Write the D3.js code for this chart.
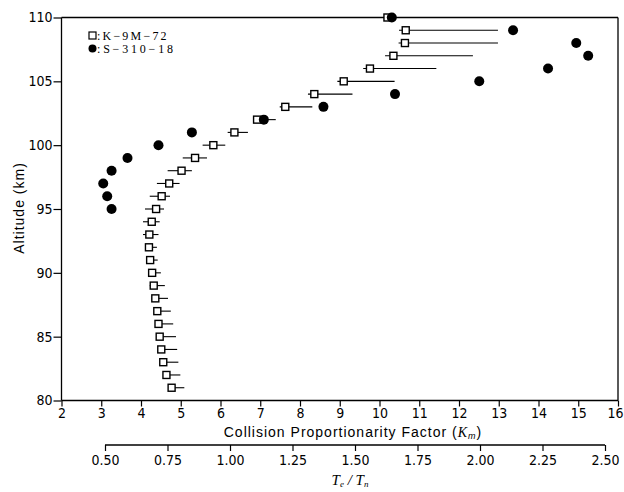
<!DOCTYPE html>
<html><head><meta charset="utf-8">
<script src="https://cdn.jsdelivr.net/npm/d3@7"></script>
<style>
body{margin:0;background:#fff;}
svg{display:block;}
</style></head>
<body>
<svg id="c" width="624" height="492"></svg>
<script>
// K-9M-72: altitude (km), factor, error bar low/high
const k9mAlt  = [81,82,83,84,85,86,87,88,89,90,91,92,93,94,95,96,97,98,99,100,101,102,103,104,105,106,107,108,109,110];
const k9mVal  = [4.77,4.64,4.56,4.51,4.47,4.44,4.41,4.36,4.32,4.28,4.23,4.20,4.21,4.27,4.38,4.52,4.71,5.02,5.36,5.82,6.35,6.92,7.63,8.36,9.10,9.76,10.35,10.64,10.66,10.20];
const k9mLow  = [4.68,4.57,4.48,4.43,4.39,4.36,4.33,4.27,4.22,4.20,4.16,4.12,4.05,4.05,4.10,4.22,4.40,4.67,5.05,5.55,6.18,6.82,7.49,8.20,8.94,9.59,10.14,10.48,10.49,10.10];
const k9mHigh = [5.09,4.99,4.94,4.91,4.88,4.81,4.75,4.68,4.60,4.50,4.42,4.40,4.44,4.47,4.58,4.73,4.97,5.28,5.66,6.12,6.69,7.39,8.31,9.32,10.38,11.43,12.35,12.98,12.98,10.30];
// S-310-18
const s310Alt = [95,96,97,98,99,100,101,102,103,104,105,106,107,108,109,110];
const s310Val = [3.26,3.15,3.05,3.26,3.66,4.44,5.28,7.09,8.59,10.39,12.51,14.24,15.25,14.95,13.36,10.31];
// axes
const xTicks = [2,3,4,5,6,7,8,9,10,11,12,13,14,15,16];
const yTicks = [80,85,90,95,100,105,110];
const tTicks = [0.50,0.75,1.00,1.25,1.50,1.75,2.00,2.25,2.50];

const svg = d3.select("#c");
const x = d3.scaleLinear().domain([2,16]).range([61.5,618]);
const y = d3.scaleLinear().domain([80,110]).range([400.5,17.5]);
const t = d3.scaleLinear().domain([0.5,2.5]).range([105,605]);

const numFont = "'Liberation Sans Narrow','DejaVu Sans Condensed','Liberation Sans',sans-serif";

// frame lines (top & right)
svg.append("line").attr("x1",x(2)).attr("x2",x(16)).attr("y1",y(110)).attr("y2",y(110))
  .attr("stroke","#000").attr("stroke-width",1.3);
svg.append("line").attr("x1",x(16)).attr("x2",x(16)).attr("y1",y(110)).attr("y2",y(80))
  .attr("stroke","#000").attr("stroke-width",1.3);

// bottom axis
const gx = svg.append("g").attr("transform",`translate(0,${y(80)})`)
  .call(d3.axisBottom(x).tickValues(xTicks).tickFormat(d3.format("d")).tickSize(6).tickPadding(2));
// left axis
const gy = svg.append("g").attr("transform",`translate(${x(2)},0)`)
  .call(d3.axisLeft(y).tickValues(yTicks).tickFormat(d3.format("d")).tickSize(8).tickPadding(1));
// Te/Tn axis
const gt = svg.append("g").attr("transform","translate(0,445)")
  .call(d3.axisBottom(t).tickValues(tTicks).tickFormat(d3.format(".2f")).tickSize(6).tickPadding(4));

[gx,gy,gt].forEach(g=>{
  g.select(".domain").attr("stroke","#000").attr("stroke-width",1.3);
  g.selectAll(".tick line").attr("stroke","#000").attr("stroke-width",1.2);
  g.selectAll(".tick text").attr("fill","#000").style("font-family",numFont).style("font-size","14px");
});
gx.select(".domain").attr("d",`M${x(2)},0H${x(16)}`);
gy.select(".domain").attr("d",`M0,${y(80)}V${y(110)}`);
gt.select(".domain").attr("d",`M${t(0.5)},0H${t(2.5)}`);
// keep the last x label inside the picture
gx.selectAll(".tick text").filter(d=>d===16).attr("text-anchor","end").attr("dx","5");

// error bars
svg.append("g").selectAll("line").data(k9mAlt).join("line")
  .attr("x1",(d,i)=>x(k9mLow[i])).attr("x2",(d,i)=>x(k9mHigh[i]))
  .attr("y1",d=>y(d)).attr("y2",d=>y(d))
  .attr("stroke","#000").attr("stroke-width",1.1);
// squares
const sq = 7;
svg.append("g").selectAll("rect").data(k9mAlt).join("rect")
  .attr("x",(d,i)=>x(k9mVal[i])-sq/2).attr("y",d=>y(d)-sq/2)
  .attr("width",sq).attr("height",sq)
  .attr("fill","#fff").attr("stroke","#000").attr("stroke-width",1.4);
// dots
svg.append("g").selectAll("circle").data(s310Alt).join("circle")
  .attr("cx",(d,i)=>x(s310Val[i])).attr("cy",d=>y(d)).attr("r",5)
  .attr("fill","#000");

// legend
const serif = "'Liberation Serif','DejaVu Serif',serif";
svg.append("rect").attr("x",89).attr("y",32).attr("width",7).attr("height",7)
  .attr("fill","#fff").attr("stroke","#000").attr("stroke-width",1.2);
svg.append("text").attr("x",97).attr("y",39.5).text(":K−9M−72")
  .style("font-family",serif).style("font-size","12px").style("letter-spacing","2.2px");
svg.append("circle").attr("cx",92.5).attr("cy",48.5).attr("r",4).attr("fill","#000");
svg.append("text").attr("x",97).attr("y",52.5).text(":S−310−18")
  .style("font-family",serif).style("font-size","12px").style("letter-spacing","2.8px");

// axis titles
const xt = svg.append("text").attr("x",353).attr("y",437).attr("text-anchor","middle")
  .style("font-family","'Liberation Sans','DejaVu Sans',sans-serif").style("font-size","14px")
  .style("letter-spacing","1px");
xt.append("tspan").text("Collision Proportionarity Factor (");
xt.append("tspan").text("K").style("font-style","italic").style("font-family",serif);
xt.append("tspan").text("m").style("font-style","italic").style("font-size","9px").attr("dy",1.5);
xt.append("tspan").text(")").attr("dy",-1.5);

const tt = svg.append("text").attr("x",350).attr("y",485).attr("text-anchor","middle")
  .style("font-family",serif).style("font-size","15px").style("font-style","italic");
tt.append("tspan").text("T");
tt.append("tspan").text("e").style("font-size","9px").attr("dy",1.5);
tt.append("tspan").text(" / T").attr("dy",-1.5);
tt.append("tspan").text("n").style("font-size","9px").attr("dy",1.5);

svg.append("text").attr("transform","translate(24,208) rotate(-90)").attr("text-anchor","middle")
  .style("font-family","'Liberation Sans','DejaVu Sans',sans-serif").style("font-size","14px")
  .style("letter-spacing","1px").text("Altitude (km)");
</script>
</body></html>
